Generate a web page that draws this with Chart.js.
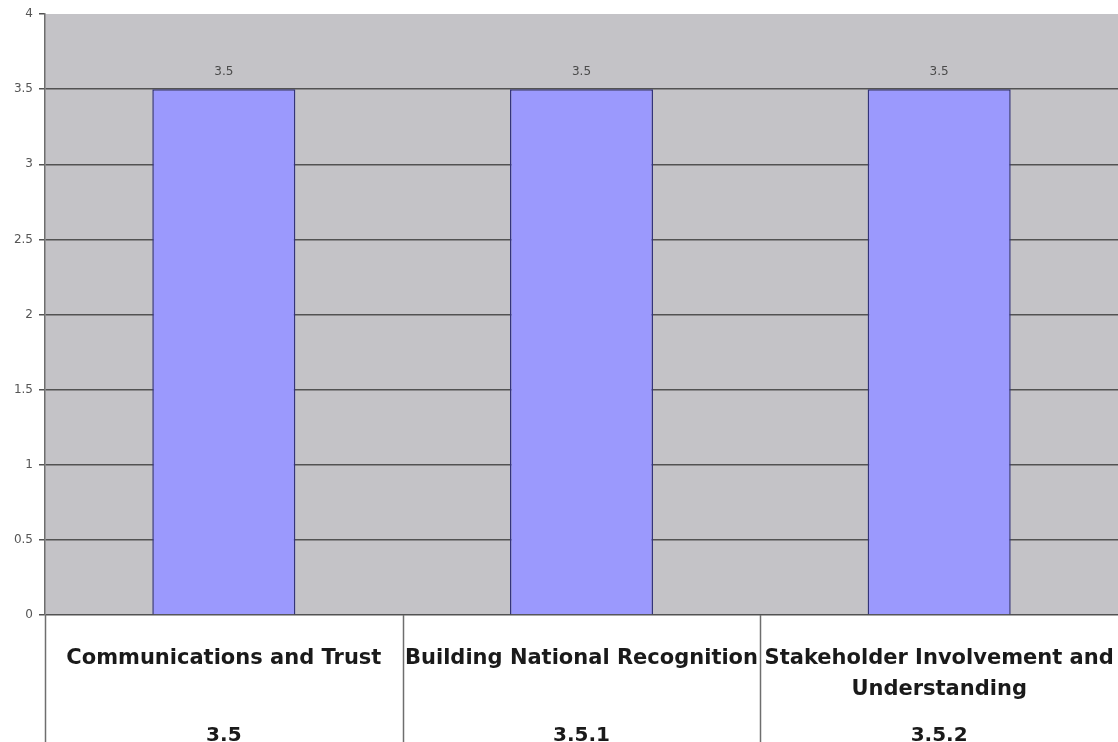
<!DOCTYPE html>
<html>
<head>
<meta charset="utf-8">
<script src="https://cdn.jsdelivr.net/npm/chart.js@4.4.1/dist/chart.umd.min.js"></script>
<style>
  html, body { margin: 0; padding: 0; background: #ffffff; }
  #wrap { width: 1118px; height: 742px; position: relative; }
</style>
</head>
<body>
<div id="wrap"><canvas id="chart" width="1118" height="742"></canvas></div>
<script>
// Category names (first level) and section codes (second level)
const categoryNames = [
  ["Communications and Trust"],
  ["Building National Recognition"],
  ["Stakeholder Involvement and", "Understanding"]
];
const sectionCodes = ["3.5", "3.5.1", "3.5.2"];
const scores = [3.5, 3.5, 3.5];

// Y axis range and step
const yMin = 0;
const yMax = 4;
const yStep = 0.5;

const PLOT_BG = '#c4c3c7';
const GRID = '#525252';

// Gray plot area fill behind the bars
const plotBackground = {
  id: 'plotBackground',
  beforeDraw(chart) {
    const { ctx, chartArea: a } = chart;
    ctx.save();
    ctx.fillStyle = PLOT_BG;
    ctx.fillRect(a.left, a.top, a.right - a.left, a.bottom - a.top);
    ctx.restore();
  }
};

// Value labels above each bar
const valueLabels = {
  id: 'valueLabels',
  afterDatasetsDraw(chart) {
    const { ctx } = chart;
    const meta = chart.getDatasetMeta(0);
    const data = chart.data.datasets[0].data;
    ctx.save();
    ctx.font = '12px "DejaVu Sans", sans-serif';
    ctx.fillStyle = '#4a4a4a';
    ctx.textAlign = 'center';
    ctx.textBaseline = 'middle';
    meta.data.forEach((bar, i) => {
      ctx.fillText(String(data[i]), bar.x, bar.y - 17);
    });
    ctx.restore();
  }
};

// Vertical separators between category cells below the plot
const categorySeparators = {
  id: 'categorySeparators',
  afterDraw(chart) {
    const { ctx, chartArea: a } = chart;
    const xs = chart.scales.x;
    const n = chart.data.labels.length;
    ctx.save();
    ctx.strokeStyle = '#6e6e6e';
    ctx.lineWidth = 1.5;
    const edges = [a.left];
    for (let i = 1; i < n; i++) {
      edges.push((xs.getPixelForValue(i - 1) + xs.getPixelForValue(i)) / 2);
    }
    edges.forEach(x => {
      ctx.beginPath();
      ctx.moveTo(Math.round(x) + 0.5, a.bottom);
      ctx.lineTo(Math.round(x) + 0.5, chart.height);
      ctx.stroke();
    });
    ctx.restore();
  }
};

// Category axes keep the full width: no side padding for wide labels
function fixCategoryAxis(height) {
  return scale => {
    scale.height = height;
    scale.paddingLeft = 0;
    scale.paddingRight = 0;
  };
}

new Chart(document.getElementById('chart'), {
  type: 'bar',
  data: {
    labels: categoryNames,
    datasets: [{
      data: scores,
      backgroundColor: '#9b99fd',
      borderColor: '#34347a',
      borderWidth: 1.5,
      categoryPercentage: 1.0,
      barPercentage: 0.4
    }]
  },
  options: {
    responsive: false,
    animation: false,
    devicePixelRatio: 1,
    layout: { padding: { top: 14, right: -3, bottom: 0, left: 0 } },
    plugins: {
      legend: { display: false },
      tooltip: { enabled: false }
    },
    scales: {
      y: {
        min: yMin,
        max: yMax,
        afterFit(scale) { scale.width = 45; },
        ticks: {
          stepSize: yStep,
          padding: 6,
          color: '#555555',
          font: { family: '"DejaVu Sans", sans-serif', size: 12 },
          callback: v => String(v)
        },
        grid: {
          color: ctx => (ctx.tick && ctx.tick.value === yMax) ? 'rgba(0,0,0,0)' : GRID,
          tickColor: GRID,
          lineWidth: 1.5,
          tickLength: 6
        },
        border: { color: '#6e6e6e', width: 1.5 }
      },
      x: {
        weight: 0,
        afterFit: fixCategoryAxis(90),
        grid: { display: false },
        border: { display: false },
        ticks: {
          maxRotation: 0,
          minRotation: 0,
          autoSkip: false,
          crossAlign: 'near',
          padding: 20,
          color: '#1a1a1a',
          font: { family: '"DejaVu Sans", sans-serif', size: 21, weight: 'bold', lineHeight: 1.476 }
        }
      },
      x2: {
        type: 'category',
        position: 'bottom',
        weight: 1,
        labels: sectionCodes,
        offset: true,
        afterFit: fixCategoryAxis(37),
        grid: { display: false },
        border: { display: false },
        ticks: {
          maxRotation: 0,
          minRotation: 0,
          autoSkip: false,
          crossAlign: 'near',
          padding: 11,
          color: '#1a1a1a',
          font: { family: '"DejaVu Sans", sans-serif', size: 20, weight: 'bold', lineHeight: 1.2 }
        }
      }
    }
  },
  plugins: [plotBackground, valueLabels, categorySeparators]
});
</script>
</body>
</html>
